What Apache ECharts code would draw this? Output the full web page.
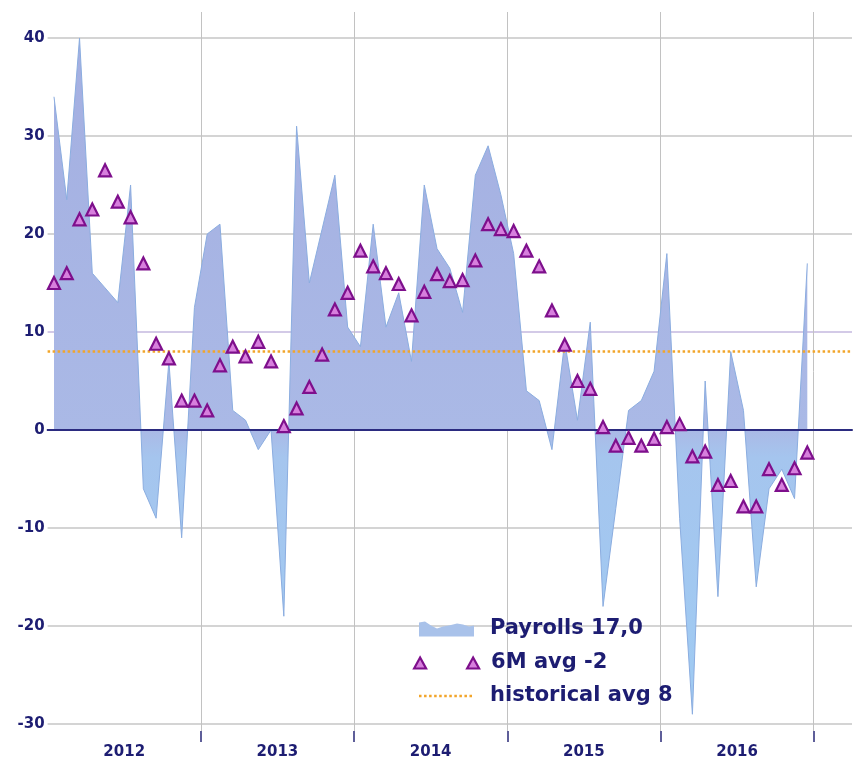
<!DOCTYPE html>
<html>
<head>
<meta charset="utf-8">
<script src="https://cdn.jsdelivr.net/npm/echarts@6/dist/echarts.min.js"></script>
<style>
html,body{margin:0;padding:0;background:#fff;}
#chart{width:858px;height:763px;}
</style>
</head>
<body>
<div id="chart"></div>
<script>
// ---- data ----
const years = ['2012', '2013', '2014', '2015', '2016', '2017'];
const monthNames = ['01','02','03','04','05','06','07','08','09','10','11','12'];
const monthsShown = 63; // Jan 2012 .. Mar 2017
const categories = [];
years.forEach(y => monthNames.forEach(m => categories.push(y + '-' + m)));
categories.length = monthsShown;

const payrolls = [
  34, 23.5, 40, 16, 14.5, 13, 25, -6, -9, 7, -11, 12.5,
  20, 21, 2, 1, -2, 0, -19, 31, 15, 20.5, 26, 10.5,
  8.5, 21, 10.5, 14, 7, 25, 18.5, 16.5, 12, 26, 29, 24,
  18, 4, 3, -2, 9, 1, 11, -18, -8, 2, 3, 6,
  18, -9, -29, 5, -17, 8, 2, -16, -6, -4, -7, 17
];
const avg6m = [
  15, 16, 21.5, 22.5, 26.5, 23.3, 21.7, 17, 8.8, 7.3, 3, 3,
  2, 6.6, 8.5, 7.5, 9, 7, 0.4, 2.2, 4.4, 7.7, 12.3, 14,
  18.3, 16.7, 16, 14.9, 11.7, 14.1, 15.9, 15.2, 15.3, 17.3, 21, 20.5,
  20.3, 18.3, 16.7, 12.2, 8.7, 5, 4.2, 0.3, -1.6, -0.8, -1.6, -0.9,
  0.3, 0.6, -2.7, -2.2, -5.6, -5.2, -7.8, -7.8, -4, -5.6, -3.9, -2.3
];
const historicalAvg = 8;
const zeroLevel = 0;
const seriesNames = ['Payrolls 17,0', '6M avg -2', 'historical avg 8'];
const yMin = -30.71, yMax = 42.65;
// month offsets (from Jan 2012) for year boundaries and year label centres
const yearBoundaries = [12, 24, 36, 48, 60];
const yearCentres = [6, 18, 30, 42, 54];

// ---- styles ----
const navy = '#1d1d72';
const font = 'DejaVu Sans';
const legendText = {color: navy, fontFamily: font, fontWeight: 'bold', fontSize: 21, lineHeight: 26};
const triFill = '#d77fdd', triBorder = '#7e0f8c';

const chart = echarts.init(document.getElementById('chart'), null, {renderer: 'canvas'});
const option = {
  animation: false,
  backgroundColor: '#ffffff',
  grid: {left: 47.6, right: 6, top: 12, bottom: 32, containLabel: false},
  xAxis: [
    {
      type: 'category',
      data: categories,
      boundaryGap: true,
      axisLine: {show: true, lineStyle: {color: '#2a2a78', width: 2}},
      axisTick: {show: false},
      splitLine: {show: false},
      axisLabel: {show: false}
    },
    {
      type: 'value',
      position: 'bottom',
      min: 0, max: monthsShown, interval: 12,
      axisLine: {show: false},
      axisTick: {show: true, length: 11, customValues: yearBoundaries,
        lineStyle: {color: '#2a2a78', width: 1.5}},
      splitLine: {show: true, lineStyle: {color: '#c2c2c2', width: 1}},
      axisLabel: {
        customValues: yearCentres,
        formatter: (v) => String(2012 + Math.floor(v / 12)),
        color: navy, fontFamily: font, fontWeight: 'bold', fontSize: 15,
        margin: 14
      }
    }
  ],
  yAxis: {
    type: 'value',
    min: yMin, max: yMax, splitNumber: 7,
    axisLine: {show: false},
    axisTick: {show: false},
    axisLabel: {color: navy, fontFamily: font, fontWeight: 'bold', fontSize: 15,
      margin: 3, showMinLabel: false, showMaxLabel: false},
    splitLine: {show: true, lineStyle: {width: 1.5,
      color: ['rgba(0,0,0,0)', '#c6c6c6', '#c6c6c6', '#c6c6c6', '#c6c6c6', '#c4b9df', '#c6c6c6', '#c6c6c6', '#c6c6c6', 'rgba(0,0,0,0)']}}
  },
  legend: [
    {
      left: 419, top: 616, orient: 'vertical', padding: 0,
      itemWidth: 55, itemHeight: 17, selectedMode: false,
      data: [{name: seriesNames[0],
        icon: 'path://M0,3 L6,2 L12,6 L18,9 L24,7 L30,6 L38,4 L44,5 L50,7 L55,6 L55,17 L0,17 Z',
        itemStyle: {color: '#a9c2ea', borderWidth: 0}}],
      textStyle: Object.assign({padding: [0, 0, 0, 11]}, legendText)
    },
    {
      left: 413, top: 650, orient: 'vertical', padding: 0,
      itemWidth: 65, itemHeight: 12, selectedMode: false,
      data: [{name: seriesNames[1],
        icon: 'path://M0,11 L6,0 L12,11 Z M53,11 L59,0 L65,11 Z',
        itemStyle: {color: triFill, borderColor: triBorder, borderWidth: 2.2}}],
      textStyle: Object.assign({padding: [0, 0, 0, 7]}, legendText)
    },
    {
      left: 419, top: 683, orient: 'vertical', padding: 0,
      itemWidth: 53, itemHeight: 3, selectedMode: false,
      data: [{name: seriesNames[2],
        icon: 'path://M0,0 h2.5 v2.5 h-2.5 Z M5,0 h2.5 v2.5 h-2.5 Z M10,0 h2.5 v2.5 h-2.5 Z M15,0 h2.5 v2.5 h-2.5 Z M20,0 h2.5 v2.5 h-2.5 Z M25,0 h2.5 v2.5 h-2.5 Z M30,0 h2.5 v2.5 h-2.5 Z M35,0 h2.5 v2.5 h-2.5 Z M40,0 h2.5 v2.5 h-2.5 Z M45,0 h2.5 v2.5 h-2.5 Z M50,0 h2.5 v2.5 h-2.5 Z',
        itemStyle: {color: '#f2a52a', borderWidth: 0}}],
      textStyle: Object.assign({padding: [0, 0, 0, 13]}, legendText)
    }
  ],
  series: [
    {
      name: seriesNames[0],
      type: 'line',
      xAxisIndex: 0,
      data: payrolls,
      symbol: 'none',
      z: 2,
      lineStyle: {color: '#8badE0', width: 1},
      itemStyle: {color: '#a9c2ea'},
      areaStyle: {
        opacity: 1,
        color: new echarts.graphic.LinearGradient(0, 0, 0, 1, [
          {offset: 0, color: '#a4afe1'},
          {offset: 0.58, color: '#aab9e6'},
          {offset: 0.62, color: '#a5c5ee'},
          {offset: 1, color: '#9fcbf3'}
        ])
      },
      markLine: {
        silent: true, symbol: 'none', animation: false,
        label: {show: false},
        lineStyle: {color: '#2b2b80', width: 2, type: 'solid'},
        data: [{yAxis: zeroLevel}]
      }
    },
    {
      name: seriesNames[2],
      type: 'line',
      xAxisIndex: 0,
      data: [],
      symbol: 'none',
      z: 3,
      lineStyle: {color: '#f2a52a', width: 2.5, type: 'dotted'},
      itemStyle: {color: '#f2a52a'},
      markLine: {
        silent: true, symbol: 'none', animation: false,
        label: {show: false},
        lineStyle: {color: '#f2a52a', width: 2.5, type: 'dotted'},
        data: [{yAxis: historicalAvg}]
      }
    },
    {
      name: seriesNames[1],
      type: 'line',
      xAxisIndex: 0,
      data: avg6m,
      z: 5,
      symbol: 'triangle',
      symbolSize: 12,
      showAllSymbol: true,
      lineStyle: {width: 0, opacity: 0},
      itemStyle: {color: triFill, borderColor: triBorder, borderWidth: 2.2}
    }
  ]
};
chart.setOption(option);
</script>
</body>
</html>
